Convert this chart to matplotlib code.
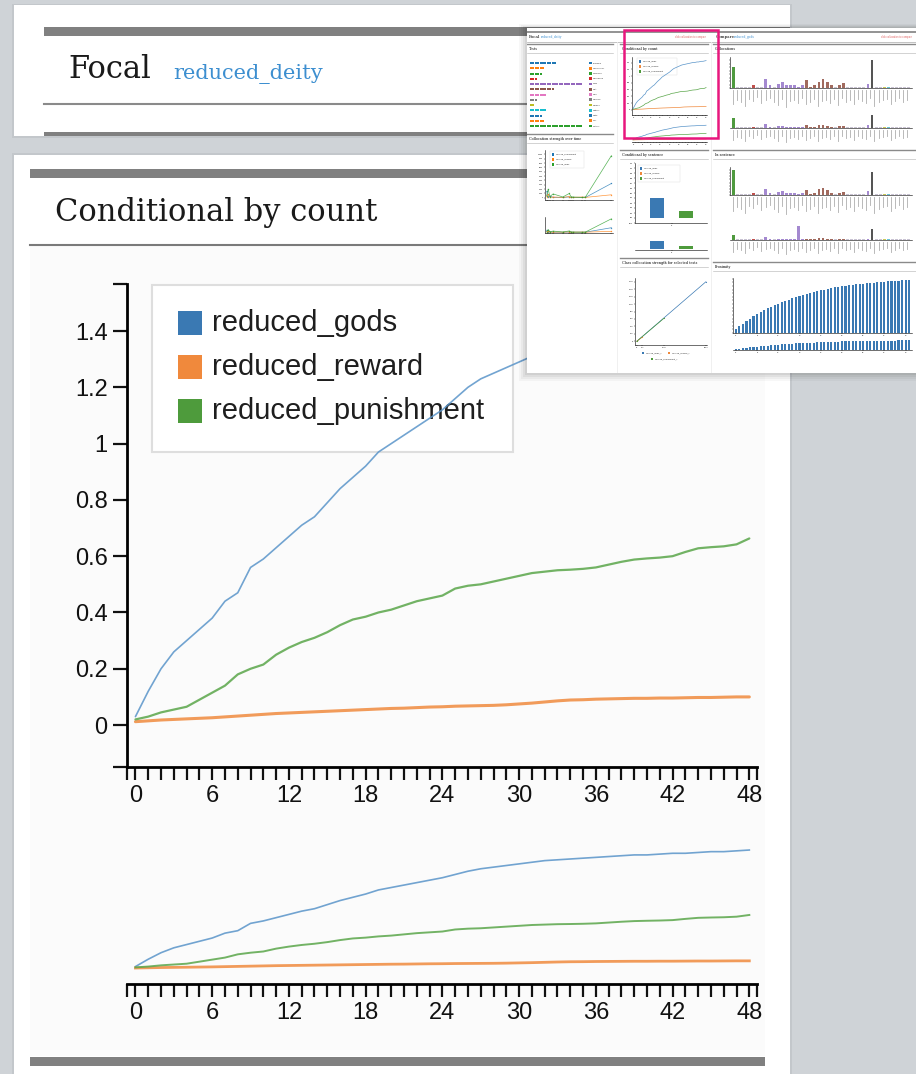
#!/usr/bin/env python3
"""Conditional by count - dashboard screenshot recreation"""

import matplotlib
matplotlib.use("Agg")
import matplotlib.pyplot as plt
from matplotlib.patches import Rectangle

W, H = 916, 1074

# ── main chart data (conditional probability by count) ──
counts = list(range(49))
gods = [0.03, 0.12, 0.20, 0.26, 0.30, 0.34, 0.38, 0.44, 0.47, 0.56,
        0.59, 0.63, 0.67, 0.71, 0.74, 0.79, 0.84, 0.88, 0.92, 0.97,
        1.00, 1.03, 1.06, 1.09, 1.12, 1.16, 1.20, 1.23, 1.25, 1.27,
        1.29, 1.31, 1.33, 1.34, 1.35, 1.36, 1.37, 1.38, 1.39, 1.40,
        1.40, 1.41, 1.42, 1.42, 1.43, 1.44, 1.44, 1.45, 1.46]
reward = [0.012, 0.015, 0.018, 0.020, 0.022, 0.024, 0.026, 0.029, 0.032, 0.035,
          0.038, 0.041, 0.043, 0.045, 0.047, 0.049, 0.051, 0.053, 0.055, 0.057,
          0.059, 0.060, 0.062, 0.064, 0.065, 0.067, 0.068, 0.069, 0.070, 0.072,
          0.075, 0.078, 0.082, 0.086, 0.089, 0.090, 0.092, 0.093, 0.094, 0.095,
          0.095, 0.096, 0.096, 0.097, 0.098, 0.098, 0.099, 0.100, 0.100]
punishment = [0.020, 0.030, 0.045, 0.055, 0.065, 0.090, 0.115, 0.140, 0.180, 0.200,
              0.215, 0.250, 0.275, 0.295, 0.310, 0.330, 0.355, 0.375, 0.385, 0.400,
              0.410, 0.425, 0.440, 0.450, 0.460, 0.485, 0.495, 0.500, 0.510, 0.520,
              0.530, 0.540, 0.545, 0.550, 0.552, 0.555, 0.560, 0.570, 0.580, 0.588,
              0.592, 0.595, 0.600, 0.615, 0.628, 0.632, 0.635, 0.642, 0.663]
series_names = ["reduced_gods", "reduced_reward", "reduced_punishment"]
swatch_colors = ["#3a79b3", "#f0893c", "#4e9b3c"]
line_colors = ["#5994c9", "#f08a3e", "#5aa64a"]
y_ticks = [0, 0.2, 0.4, 0.6, 0.8, 1.0, 1.2, 1.4]
y_labels = ["0", "0.2", "0.4", "0.6", "0.8", "1", "1.2", "1.4"]
x_ticks = [0, 6, 12, 18, 24, 30, 36, 42, 48]

# ── thumbnail (dashboard overview) data ──
cat10 = ["#1f77b4", "#ff7f0e", "#2ca02c", "#d62728", "#9467bd",
         "#8c564b", "#e377c2", "#7f7f7f", "#bcbd22", "#17becf"]
test_names = ["Classics", "Cosmology", "Medicine", "Deceased", "Ruja", "Diet", "Fiqh",
              "Women", "Names", "Military", "Math", "War", "History"]
test_dots = [11, 6, 5, 3, 22, 10, 7, 3, 2, 7, 5, 6, 22]

time_x = [0, 1, 2, 4, 10, 14, 15, 16, 22, 24, 40]
time_punish = [1500, 300, 400, 100, 100, 200, 100, 100, 100, 100, 3300]
time_reward = [300, 800, 100, 200, 100, 300, 100, 100, 200, 100, 700]
time_gods = [500, 2000, 300, 900, 200, 1000, 300, 200, 100, 200, 9700]
time_names = ["reduced_punishment", "reduced_reward", "reduced_gods"]

sentence_vals = [0.41, 0.01, 0.14]

class_x_gods = [0, 5761]
class_y_gods = [0, 1600]
class_x_punish = [0, 2272]
class_y_punish = [0, 620]
class_x_reward = [0, 457]
class_y_reward = [0, 110]
class_xticks = [0, 457, 2272, 5761]
class_names = ["reduced_gods_y", "reduced_reward_y", "reduced_punishment_y"]

colloc_vals = [60, 3, 3, 3, 3, 8, 3, 3, 25, 8, 3, 12, 18, 8, 8, 8, 4, 8, 22, 4, 8, 18,
               25, 18, 8, 3, 8, 15, 3, 3, 3, 3, 3, 12, 80, 3, 3, 3, 3, 3, 3, 3, 3, 3]
colloc_vals2 = [10, .5, .5, .5, .5, 1, .5, .5, 4, 1, .5, 2, 2, 1, 1, 1, .5, 1, 3, .5, 1, 3,
                3, 2, 1, .5, 2, 2, .5, .5, .5, .5, .5, 3, 13, .5, .5, .5, .5, .5, .5, .5, .5, .5]
sent_vals = [27, 1, 1, 1, 1, 2, 1, 1, 7, 2, 1, 3, 4, 2, 2, 2, 1, 2, 5, 1, 2, 6,
             8, 5, 2, 1, 2, 3, 1, 1, 1, 1, 1, 4, 25, 1, 1, 1, 1, 1, 1, 1, 1, 1]
sent_vals2 = [5, .5, .5, .5, .5, .5, .5, .5, 3, .5, .5, 1, 1, .5, .5, .5, 13, .5, 1, .5, .5, 2,
              2, 1, .5, .5, .5, 1, .5, .5, .5, .5, .5, 1, 10, .5, .5, .5, .5, .5, .5, .5, .5, .5]
colloc_cat = list("g" "xxxx" "r" "xx" "pp" "x" "ppppppp" "bbbbbbb" "x" "bb" "xxxxx"
                  "p" "k" "xx" "o" "c" "xxxxx")
colloc_label_len = [14, 10, 12, 16, 9, 11, 7, 13, 10, 8, 12, 15, 9, 17, 11, 10, 13, 8, 14, 12, 9, 16,
                    11, 10, 13, 9, 15, 8, 12, 10, 14, 9, 11, 13, 8, 16, 12, 10, 9, 14, 11, 8, 12, 10]
cat_colors = {"g": "#4f9a3f", "r": "#c0504d", "p": "#a489d0", "b": "#a16a5e",
              "k": "#555555", "o": "#c8c85a", "c": "#6cc6d6", "x": "#c9c3d3"}

proximity = [0.25, 0.45, 0.65, 0.85, 1.0, 1.15, 1.3, 1.45, 1.6, 1.7,
             1.82, 1.93, 2.03, 2.13, 2.22, 2.31, 2.4, 2.48, 2.56, 2.63,
             2.7, 2.77, 2.83, 2.89, 2.95, 3.0, 3.05, 3.1, 3.15, 3.19,
             3.23, 3.27, 3.3, 3.33, 3.36, 3.39, 3.42, 3.44, 3.46, 3.48,
             3.5, 3.52, 3.54, 3.56, 3.58, 3.6, 3.62, 3.64, 3.66, 3.68]

plt.rcParams["font.family"] = ["Liberation Sans", "DejaVu Sans"]

fig = plt.figure(figsize=(W / 100, H / 100), dpi=100)
fig.patch.set_facecolor("#cfd3d7")


def px_axes(x0, y0, x1, y1, z):
    return fig.add_axes([x0 / W, 1 - y1 / H, (x1 - x0) / W, (y1 - y0) / H], zorder=z)


def canvas(x0, y0, x1, y1, z):
    a = px_axes(x0, y0, x1, y1, z)
    a.set_xlim(x0, x1)
    a.set_ylim(y1, y0)
    a.axis("off")
    return a


def rect(a, x, y, w, h, **kw):
    kw.setdefault("lw", 0)
    a.add_patch(Rectangle((x, y), w, h, **kw))


# ── page background, cards, headers ──
bg = canvas(0, 0, W, H, 0)
rect(bg, 12, 4, 780, 134, fc="#c3c7cb")
rect(bg, 14, 5, 776, 131, fc="white")
rect(bg, 44, 27, 746, 9, fc="#808080")
bg.text(68, 70, "Focal", fontsize=22, family="DejaVu Serif", va="center", color="#1a1a1a")
bg.text(173, 74, "reduced_deity", fontsize=15, family="DejaVu Serif", va="center", color="#3d8fd0")
bg.plot([44, 790], [104, 104], color="#8a8a8a", lw=1.5)
rect(bg, 44, 132, 746, 4, fc="#808080")

rect(bg, 12, 153, 780, 925, fc="#c3c7cb")
rect(bg, 14, 155, 776, 919, fc="white")
rect(bg, 30, 169, 735, 9, fc="#808080")
bg.text(55, 212, "Conditional by count", fontsize=22, family="DejaVu Serif", va="center",
        color="#1a1a1a")
bg.plot([30, 765], [245, 245], color="#7a7a7a", lw=1.5)
rect(bg, 30, 246, 735, 810, fc="#fbfbfb")
rect(bg, 30, 1057, 735, 9, fc="#808080")

# legend (drawn beneath the lines)
rect(bg, 152, 285, 361, 167, fc="white", ec="#dedede", lw=1.5)
for i, (name, c) in enumerate(zip(series_names, swatch_colors)):
    yc = 323 + i * 44
    rect(bg, 178, yc - 12, 24, 24, fc=c)
    bg.text(212, yc, name, fontsize=21, va="center", color="#1e1e1e")

XLO, XHI = -0.66, 48.6


def count_axis(a):
    a.patch.set_alpha(0)
    a.set_xlim(XLO, XHI)
    a.set_xticks(x_ticks, [str(t) for t in x_ticks])
    a.set_xticks([XLO] + [c for c in counts if c % 6] + [XHI], minor=True)
    a.tick_params(axis="x", which="both", direction="out", length=9, width=1.6,
                  labelsize=17, pad=4, colors="#111111")
    a.spines["bottom"].set_linewidth(2)
    for s in ("top", "right"):
        a.spines[s].set_visible(False)


# ── main chart ──
ax = px_axes(127, 284, 757, 767, 2)
count_axis(ax)
YLO, YHI = -0.149, 1.567
ax.set_ylim(YLO, YHI)
ax.set_yticks(y_ticks, y_labels)
ax.set_yticks([YLO, YHI], minor=True)
ax.tick_params(axis="y", which="both", direction="out", length=10, width=1.6,
               labelsize=17, pad=4, colors="#111111")
ax.spines["left"].set_linewidth(2)
for vals, c, lw in zip([gods, reward, punishment], line_colors, [1.2, 2.2, 1.6]):
    ax.plot(counts, vals, color=c, lw=lw, alpha=0.85, solid_capstyle="round")

# ── context chart below ──
ax2 = px_axes(127, 840, 757, 984, 2)
count_axis(ax2)
ax2.set_ylim(-0.184, 1.583)
ax2.set_yticks([])
ax2.spines["left"].set_visible(False)
for vals, c, lw in zip([gods, reward, punishment], line_colors, [1.2, 2.0, 1.4]):
    ax2.plot(counts, vals, color=c, lw=lw, alpha=0.85)

# ── dashboard thumbnail ──
sh = canvas(505, 10, W, H, 4)
for k, a in enumerate([0.03, 0.04, 0.05, 0.06]):
    d = 8 - 2 * k
    rect(sh, 527 - d, 28 - d / 2, 389 + d, 345 + 1.5 * d, fc="black", alpha=a)

ins = canvas(527, 28, 916, 373, 5)
rect(ins, 527, 28, 389, 345, fc="white")
ins.plot([527, 916], [32, 32], color="#808080", lw=1.2)
ins.text(529, 37, "Focal", fontsize=3, family="DejaVu Serif", va="center")
ins.text(541, 37.3, "reduced_deity", fontsize=2.2, family="DejaVu Serif", va="center", color="#3d8fd0")
ins.text(716, 37, "Compare", fontsize=3, family="DejaVu Serif", va="center")
ins.text(734, 37.3, "reduced_gods", fontsize=2.2, family="DejaVu Serif", va="center", color="#3d8fd0")
ins.text(706, 37, "click collocation to compare", fontsize=1.8, va="center", ha="right", color="#e06060")
ins.text(912, 37, "click collocation to compare", fontsize=1.8, va="center", ha="right", color="#e06060")
ins.plot([527, 916], [41.5, 41.5], color="#aaaaaa", lw=0.5)
for xs in (617, 711):
    ins.plot([xs, xs], [42, 373], color="#eeeeee", lw=0.6)

cols = {1: (527, 613), 2: (620, 708), 3: (713, 916)}
headers = [("Tests", 1, 49), ("Conditional by count", 2, 49), ("Collocations", 3, 49),
           ("Collocation strength over time", 1, 139), ("Conditional by sentence", 2, 155),
           ("In sentence", 3, 155), ("Class collocation strength for selected tests", 2, 263),
           ("Proximity", 3, 267)]
for title, col, y in headers:
    x0, x1 = cols[col]
    ins.plot([x0, x1], [y - 5, y - 5], color="#8a8a8a", lw=1.0)
    ins.text(x0 + 2, y, title, fontsize=2.4, family="DejaVu Serif", va="center")
    ins.plot([x0, x1], [y + 4, y + 4], color="#b0b0b0", lw=0.4)

for i, (n, name) in enumerate(zip(test_dots, test_names)):
    y = 63 + i * 5.25
    c = cat10[i % 10]
    ins.scatter([531 + k * 2.4 for k in range(n)], [y] * n, s=0.9, marker="s", color=c, lw=0)
    rect(ins, 589, y - 1.3, 2.6, 2.6, fc=c)
    ins.text(593, y, name, fontsize=1.7, va="center", color="#333333")


def mini(x0, y0, x1, y1, left=True):
    a = px_axes(x0, y0, x1, y1, 6)
    a.patch.set_alpha(0)
    for s in ("top", "right"):
        a.spines[s].set_visible(False)
    a.spines["left"].set_visible(left)
    for s in ("left", "bottom"):
        a.spines[s].set_linewidth(0.4)
    a.tick_params(which="both", length=1, width=0.3, labelsize=1.5, pad=0.5)
    return a


def mini_legend(x, y, names, colors, w):
    rect(ins, x, y, w, 5 * len(names) + 2, fc="white", ec="#dddddd", lw=0.3)
    for i, (nm, c) in enumerate(zip(names, colors)):
        rect(ins, x + 2, y + 2 + 5 * i, 2.5, 2.5, fc=c)
        ins.text(x + 6, y + 3.3 + 5 * i, nm, fontsize=1.6, va="center", color="#333333")


# collocation strength over time
time_cols = [cat10[0], cat10[1], cat10[2]]
for (y0, y1, top, lab) in [(150, 200, 11000, True), (217, 233, 11000, False)]:
    a = mini(545, y0, 613, y1)
    for vals, c in zip([time_punish, time_reward, time_gods], time_cols):
        a.plot(time_x, vals, color=c, lw=0.5, alpha=0.8, marker="s", ms=0.9, mew=0)
    a.set_ylim(-500, top)
    a.set_xlim(-1, 41)
    a.set_xticks(time_x, [""] * len(time_x))
    if lab:
        a.set_yticks(range(0, 11000, 1000))
        a.tick_params(labelsize=1.3)
    else:
        a.set_yticks([])
mini_legend(550, 151, time_names, time_cols, 34)

# conditional by count thumbnail
a = mini(632, 57, 707, 115)
for vals, c in zip([gods, reward, punishment], line_colors):
    a.plot(counts, vals, color=c, lw=0.5)
a.set_xlim(XLO, XHI)
a.set_ylim(YLO, YHI)
a.set_xticks(x_ticks)
a.set_xticks(counts, minor=True)
a.set_yticks(y_ticks, y_labels)
mini_legend(637, 58, series_names, swatch_colors, 40)
a = mini(632, 124, 707, 142, left=False)
for vals, c in zip([gods, reward, punishment], line_colors):
    a.plot(counts, vals, color=c, lw=0.5)
a.set_xlim(XLO, XHI)
a.set_ylim(-0.196, 1.583)
a.set_xticks(x_ticks)
a.set_xticks(counts, minor=True)
a.set_yticks([])

# conditional by sentence
for (y0, y1, lo, hi, lab) in [(163, 223, -0.1, 1.1, True), (238, 250, -0.05, 0.55, False)]:
    a = mini(635, y0, 707, y1, left=lab)
    a.bar([0, 1, 2], sentence_vals, width=1.0, color=swatch_colors)
    a.set_xlim(-1.55, 3.48)
    a.set_ylim(lo, hi)
    a.set_xticks([1], ["0"])
    if lab:
        a.set_yticks([i / 10 for i in range(-1, 12)])
    else:
        a.set_yticks([])
mini_legend(638, 165, series_names, swatch_colors, 42)

# class collocation strength
a = mini(635, 278, 707, 345)
for xs, ys, c in zip([class_x_gods, class_x_reward, class_x_punish],
                     [class_y_gods, class_y_reward, class_y_punish], swatch_colors):
    a.plot(xs, ys, color=c, lw=0.5, marker="o", ms=0.8, mew=0)
a.set_xlim(-150, 5850)
a.set_ylim(-100, 1700)
a.set_xticks(class_xticks, [str(v) for v in class_xticks])
a.set_yticks(range(0, 1700, 200))
for i, (nm, c) in enumerate(zip(class_names, swatch_colors)):
    px, py = [(642, 353), (668, 353), (651, 359)][i]
    rect(ins, px, py - 1.2, 2.4, 2.4, fc=c)
    ins.text(px + 3.5, py, nm, fontsize=1.6, va="center", color="#333333")

# collocation / in-sentence bar rows
bar_cols = [cat_colors[k] for k in colloc_cat]
rows = [(colloc_vals, 57, 88, True), (colloc_vals2, 113, 128, False),
        (sent_vals, 167, 195, True), (sent_vals2, 224, 240, False)]
for vals, y0, y1, lab in rows:
    a = mini(730, y0, 912, y1, left=lab)
    a.bar(range(len(vals)), vals, width=0.7, color=bar_cols)
    a.set_xlim(-0.8, len(vals) - 0.2)
    a.set_ylim(0, max(vals) * 1.12)
    a.set_xticks([])
    if lab:
        a.set_yticks([max(vals) * k / 8 for k in range(9)], [""] * 9)
    else:
        a.set_yticks([])
    step = 180 / (len(vals) + 0.6)
    for i, ln in enumerate(colloc_label_len):
        xx = 730 + (i + 0.8) * step
        ins.plot([xx, xx], [y1 + 2, y1 + 2 + ln * (1.0 if lab else 0.7)], color="#9a9a9a",
                 lw=0.6, alpha=0.8)

# proximity
for y0, y1, lab in [(278, 333, True), (340, 350, False)]:
    a = mini(733, y0, 912, y1, left=lab)
    a.bar(range(len(proximity)), proximity, width=0.6, color="#3a79b3")
    a.set_xlim(-0.8, len(proximity) - 0.2)
    a.set_ylim(0, 3.8)
    a.set_xticks(range(0, 50, 6), [str(v) for v in range(0, 50, 6)])
    if lab:
        a.set_yticks([k * 0.25 for k in range(16)], [""] * 16)
    else:
        a.set_yticks([])

# highlight frame around the active chart
top = canvas(0, 0, W, H, 7)
top.add_patch(Rectangle((624, 30), 94, 108, fill=False, ec="#e8177d", lw=1.8))

fig.savefig("out.png", dpi=100)
